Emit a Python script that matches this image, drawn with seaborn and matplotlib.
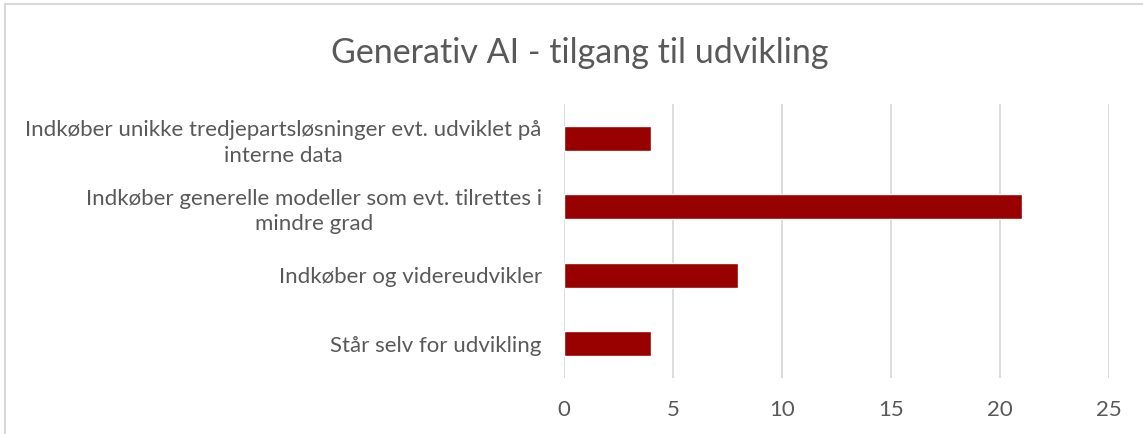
import matplotlib
matplotlib.use("Agg")
import matplotlib.pyplot as plt
from matplotlib.lines import Line2D
import seaborn as sns
import pandas as pd

# data
categories = [
    "Indkøber unikke tredjepartsløsninger evt. udviklet på\ninterne data",
    "Indkøber generelle modeller som evt. tilrettes i\nmindre grad",
    "Indkøber og videreudvikler",
    "Står selv for udvikling",
]
values = [4, 21, 8, 4]
xticks = [0, 5, 10, 15, 20, 25]
title = "Generativ AI - tilgang til udvikling"

df = pd.DataFrame({"kategori": categories, "antal": values})

sns.set_style("white")
plt.rcParams["font.family"] = ["Lato", "DejaVu Sans"]
grey = "#595959"

fig = plt.figure(figsize=(11.43, 4.34), dpi=100)
ax = fig.add_axes([0.4934, 0.129, 0.4769, 0.6314])

sns.barplot(data=df, x="antal", y="kategori", color="#990000", width=0.37,
            saturation=1, ax=ax, orient="h")

ax.set_xlim(0, 25)
ax.set_xticks(xticks)
ax.set_xlabel("")
ax.set_ylabel("")
ax.xaxis.grid(True, color="#d9d9d9", linewidth=1.3)
ax.set_axisbelow(True)
for s in ax.spines.values():
    s.set_visible(False)
ax.tick_params(axis="x", length=0, pad=16, labelsize=16, labelcolor=grey)
ax.tick_params(axis="y", length=0, pad=16, labelsize=16, labelcolor=grey)
for lab in ax.get_yticklabels():
    lab.set_multialignment("center")
    lab.set_linespacing(1.35)

fig.text(0.507, 0.878, title, ha="center", va="center", fontsize=24.5, color=grey)

# chart border (left and top)
fig.add_artist(Line2D([0.004, 0.004], [0, 0.99], color="#d9d9d9", lw=1.5, transform=fig.transFigure))
fig.add_artist(Line2D([0.004, 1], [0.99, 0.99], color="#d9d9d9", lw=1.5, transform=fig.transFigure))

fig.savefig("out.png", dpi=100)
